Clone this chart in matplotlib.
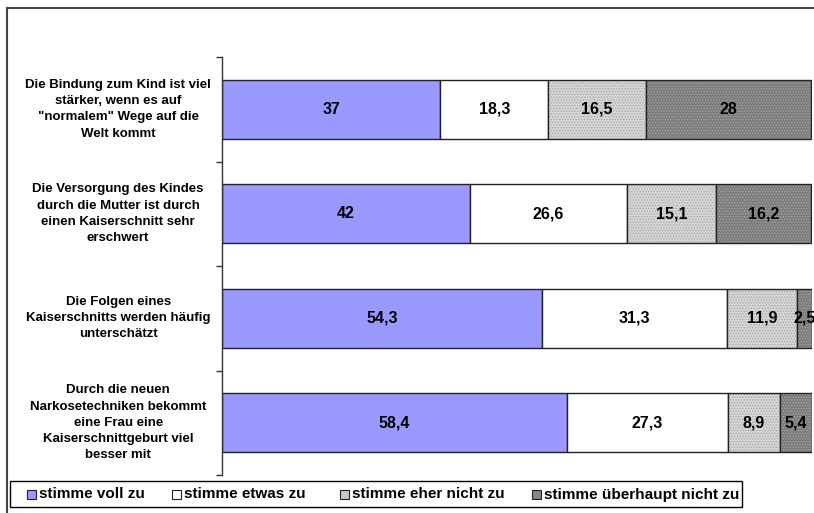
import matplotlib
matplotlib.use('Agg')
import matplotlib.pyplot as plt
from matplotlib.patches import Rectangle
from matplotlib.transforms import blended_transform_factory

statements = [
    'Die Bindung zum Kind ist viel\nstärker, wenn es auf\n"normalem" Wege auf die\nWelt kommt',
    'Die Versorgung des Kindes\ndurch die Mutter ist durch\neinen Kaiserschnitt sehr\nerschwert',
    'Die Folgen eines\nKaiserschnitts werden häufig\nunterschätzt',
    'Durch die neuen\nNarkosetechniken bekommt\neine Frau eine\nKaiserschnittgeburt viel\nbesser mit',
]
series_names = ['stimme voll zu', 'stimme etwas zu', 'stimme eher nicht zu', 'stimme überhaupt nicht zu']
voll = [37, 42, 54.3, 58.4]
etwas = [18.3, 26.6, 31.3, 27.3]
eher_nicht = [16.5, 15.1, 11.9, 8.9]
gar_nicht = [28, 16.2, 2.5, 5.4]

plt.rcParams['font.family'] = ['Liberation Sans', 'DejaVu Sans']
plt.rcParams['hatch.linewidth'] = 0.6

# face, hatch, hatch colour
styles = [
    ('#9999ff', None, None),
    ('#ffffff', None, None),
    ('#d6d6d6', '......', '#a4a4a4'),
    ('#7c7c7c', '......', '#a8a8a8'),
]

W, H = 814, 513
fig = plt.figure(figsize=(W / 100, H / 100), dpi=100)
ax = fig.add_axes([222 / W, 38 / H, 590 / W, 418 / H])

ypos = list(range(len(statements)))
left = [0.0] * len(statements)
for vals, (fc, hatch, hc) in zip([voll, etwas, eher_nicht, gar_nicht], styles):
    if hatch:
        ax.barh(ypos, vals, left=left, height=0.56, color=fc, hatch=hatch,
                edgecolor=hc, linewidth=0)
    else:
        ax.barh(ypos, vals, left=left, height=0.56, color=fc, linewidth=0)
    ax.barh(ypos, vals, left=left, height=0.56, fill=False, edgecolor='#222222', linewidth=1.0)
    for y, l, v in zip(ypos, left, vals):
        txt = f'{v:g}'.replace('.', ',')
        ax.text(l + v / 2, y, txt, ha='center', va='center', fontsize=11.5,
                fontweight='bold', color='black', clip_on=False)
    left = [a + b for a, b in zip(left, vals)]

ax.set_xlim(0, 100)
ax.set_ylim(len(statements) - 0.5, -0.5)
ax.set_xticks([])
ax.set_yticks([])
ax.set_yticks([i - 0.5 for i in range(len(statements) + 1)], minor=True)
ax.tick_params(axis='y', which='minor', length=4, width=1, color='#333333', direction='out')
for s in ['top', 'right', 'bottom']:
    ax.spines[s].set_visible(False)
ax.spines['left'].set_color('#333333')
ax.spines['left'].set_linewidth(1.0)

trans = blended_transform_factory(ax.transAxes, ax.transData)
for y, lab in zip(ypos, statements):
    ax.text(-0.176, y, lab, transform=trans, ha='center', va='center',
            multialignment='center', fontsize=9.5, fontweight='bold', linespacing=1.47)

# outer chart border
fig.patches.append(Rectangle((7 / W, -0.05), 1.1, 1.05 - 8 / H, transform=fig.transFigure,
                             fill=False, edgecolor='#444444', linewidth=1.5, zorder=0))

# legend, drawn by hand in pixel positions
fig.patches.append(Rectangle((10 / W, 1 - 507 / H), 732 / W, 26 / H, transform=fig.transFigure,
                             facecolor='white', edgecolor='black', linewidth=1.0))
leg_faces = ['#9999ff', '#ffffff', '#c8c8c8', '#858585']
leg_x = [27, 172, 340, 532]
for x, fc, name in zip(leg_x, leg_faces, series_names):
    fig.patches.append(Rectangle((x / W, 1 - 499 / H), 9 / W, 9 / H, transform=fig.transFigure,
                                 facecolor=fc, edgecolor='#222222', linewidth=0.8))
    fig.text((x + 12) / W, 1 - 494.5 / H, name, ha='left', va='center',
             fontsize=11, fontweight='bold')

plt.savefig('out.png', dpi=100)
